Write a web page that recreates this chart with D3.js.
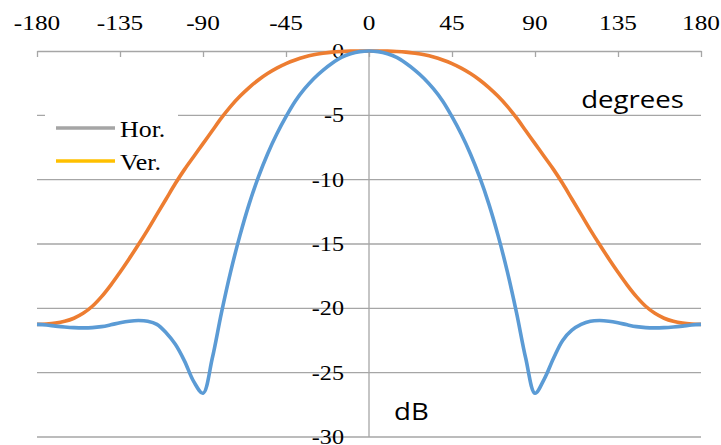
<!DOCTYPE html>
<html>
<head>
<meta charset="utf-8">
<script src="https://cdn.jsdelivr.net/npm/d3@7"></script>
<style>
  body { margin: 0; background: #fff; }
  svg { display: block; }
</style>
</head>
<body>
<svg id="chart"></svg>
<script>
// angles in degrees, 5 degree steps
const angles = [
  -180, -175, -170, -165, -160, -155, -150, -145, -140, -135, -130, -125,
  -120, -115, -110, -105, -100, -95, -90, -85, -80, -75, -70, -65,
  -60, -55, -50, -45, -40, -35, -30, -25, -20, -15, -10, -5,
  0, 5, 10, 15, 20, 25, 30, 35, 40, 45, 50, 55,
  60, 65, 70, 75, 80, 85, 90, 95, 100, 105, 110, 115,
  120, 125, 130, 135, 140, 145, 150, 155, 160, 165, 170, 175, 180
]

// blue curve (dB)
const horValues = [
  -21.25, -21.3, -21.38, -21.45, -21.5, -21.52, -21.5, -21.42, -21.28, -21.12, -21.0, -20.95,
  -21.0, -21.25, -21.9, -22.8, -24.1, -25.7, -26.6, -23.9, -20.35, -17.15, -14.35, -11.9,
  -9.8, -8.0, -6.45, -5.1, -3.9, -2.95, -2.15, -1.5, -0.95, -0.5, -0.22, -0.05,
  0, -0.05, -0.22, -0.5, -0.95, -1.5, -2.15, -2.95, -3.9, -5.1, -6.45, -8.0,
  -9.8, -11.9, -14.35, -17.15, -20.35, -23.9, -26.6, -25.5, -23.9, -22.5, -21.7, -21.25,
  -21.0, -20.95, -21.0, -21.12, -21.28, -21.42, -21.5, -21.52, -21.5, -21.45, -21.38, -21.3, -21.25
]

// orange curve (dB)
const verValues = [
  -21.25, -21.22, -21.15, -21.01, -20.77, -20.39, -19.84, -19.09, -18.19, -17.19, -16.14, -15.04,
  -13.9, -12.7, -11.5, -10.3, -9.2, -8.2, -7.2, -6.2, -5.2, -4.3, -3.52, -2.84,
  -2.25, -1.75, -1.33, -0.98, -0.7, -0.47, -0.3, -0.18, -0.09, -0.04, -0.013, 0,
  0, 0, -0.013, -0.04, -0.09, -0.18, -0.3, -0.47, -0.7, -0.98, -1.33, -1.75,
  -2.25, -2.84, -3.52, -4.3, -5.2, -6.2, -7.2, -8.2, -9.2, -10.3, -11.5, -12.7,
  -13.9, -15.04, -16.14, -17.19, -18.19, -19.09, -19.84, -20.39, -20.77, -21.01, -21.15, -21.22, -21.25
]

const xTicks = [-180, -135, -90, -45, 0, 45, 90, 135, 180]
const yTicks = [0, -5, -10, -15, -20, -25, -30]
const legendNames = ['Hor.', 'Ver.']

const width = 721
const height = 445
const stretch = 1.15 // the source picture is a bit wider than tall

const serif = '"Liberation Serif", "Times New Roman", serif'
const sans = '"Open Sans", sans-serif'

const svg = d3.select('#chart')
  .attr('width', width)
  .attr('height', height)

const xScale = d3.scaleLinear().domain([-180, 180]).range([37, 701])
const yScale = d3.scaleLinear().domain([-30, 0]).range([437, 51])

const gridColor = '#a6a6a6'

// horizontal grid lines
svg.append('g')
  .selectAll('line')
  .data(yTicks.filter(d => d !== 0))
  .enter()
  .append('line')
  .attr('x1', xScale(-180))
  .attr('x2', xScale(180))
  .attr('y1', d => yScale(d))
  .attr('y2', d => yScale(d))
  .attr('stroke', gridColor)
  .attr('stroke-width', 1.3)

// vertical axis through 0 degrees
svg.append('line')
  .attr('x1', xScale(0))
  .attr('x2', xScale(0))
  .attr('y1', yScale(0))
  .attr('y2', yScale(-30))
  .attr('stroke', gridColor)
  .attr('stroke-width', 1.3)

// top axis, ticks hanging down
const xAxis = svg.append('g')
  .attr('transform', `translate(0, ${yScale(0)})`)
  .call(d3.axisBottom(xScale).tickValues(xTicks).tickSize(6).tickSizeOuter(0).tickFormat(''))
xAxis.select('.domain').attr('stroke', gridColor).attr('stroke-width', 1.3)
xAxis.selectAll('.tick line').attr('stroke', gridColor).attr('stroke-width', 1.3)

svg.append('g')
  .selectAll('text')
  .data(xTicks)
  .enter()
  .append('text')
  .attr('transform', d => `translate(${xScale(d)}, 30) scale(${stretch}, 1)`)
  .attr('text-anchor', 'middle')
  .style('font-family', serif)
  .style('font-size', '22px')
  .text(d => d)

// y labels next to the center axis
svg.append('g')
  .selectAll('text')
  .data(yTicks)
  .enter()
  .append('text')
  .attr('transform', d => `translate(344, ${yScale(d) + 7}) scale(${stretch}, 1)`)
  .attr('text-anchor', 'end')
  .style('font-family', serif)
  .style('font-size', '21px')
  .text(d => d)

const line = d3.line()
  .x((d, i) => xScale(angles[i]))
  .y(d => yScale(d))
  .curve(d3.curveCatmullRom.alpha(0.5))

svg.append('path')
  .datum(verValues)
  .attr('fill', 'none')
  .attr('stroke', '#ed7d31')
  .attr('stroke-width', 3.6)
  .attr('stroke-linejoin', 'round')
  .attr('d', line)

svg.append('path')
  .datum(horValues)
  .attr('fill', 'none')
  .attr('stroke', '#5b9bd5')
  .attr('stroke-width', 3.6)
  .attr('stroke-linejoin', 'round')
  .attr('d', line)

// legend
svg.append('rect')
  .attr('x', 45)
  .attr('y', 108)
  .attr('width', 133)
  .attr('height', 66)
  .attr('fill', '#fff')

const legendColors = ['#a5a5a5', '#ffc000']
const legend = svg.append('g')
  .selectAll('g')
  .data(legendNames)
  .enter()
  .append('g')
  .attr('transform', (d, i) => `translate(0, ${128 + i * 33})`)

legend.append('line')
  .attr('x1', 56)
  .attr('x2', 115)
  .attr('stroke', (d, i) => legendColors[i])
  .attr('stroke-width', 3.6)

legend.append('text')
  .attr('transform', `translate(120, 9) scale(1.08, 1)`)
  .style('font-family', serif)
  .style('font-size', '24px')
  .text(d => d)

// unit labels
svg.append('text')
  .attr('transform', `translate(684, 108) scale(${stretch}, 1)`)
  .attr('text-anchor', 'end')
  .style('font-family', sans)
  .style('font-size', '24px')
  .text('degrees')

svg.append('text')
  .attr('transform', `translate(394, 420) scale(${stretch}, 1)`)
  .style('font-family', sans)
  .style('font-size', '24px')
  .text('dB')
</script>
</body>
</html>
